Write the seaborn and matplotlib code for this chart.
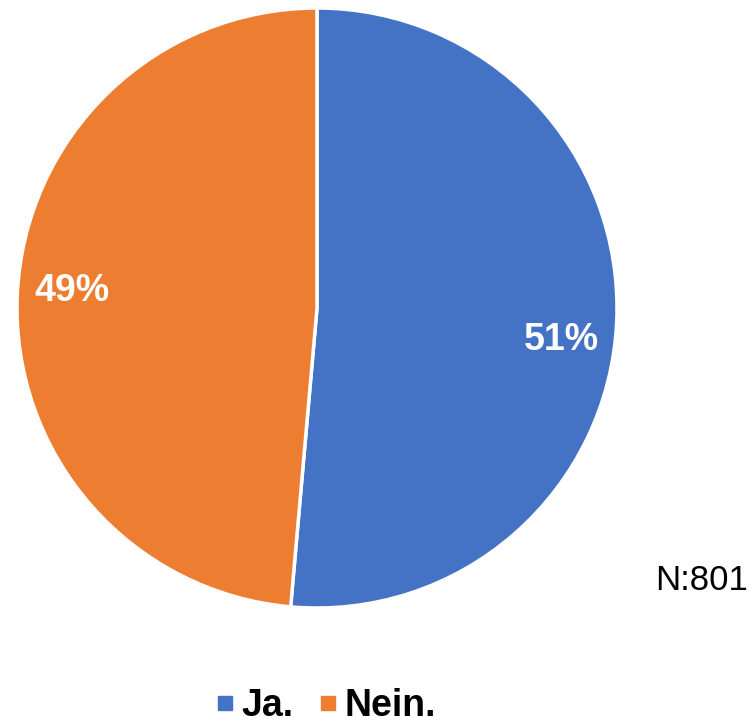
import numpy as np
import seaborn as sns
import matplotlib.pyplot as plt
from matplotlib.lines import Line2D

# Daten
labels = ['Ja.', 'Nein.']
anteile = [51.4, 48.6]
farben = ['#4472C4', '#ED7D31']
n_text = 'N:801'

sns.set_style('white')
plt.rcParams['font.family'] = ['Liberation Sans', 'DejaVu Sans']
plt.rcParams['text.color'] = 'black'

fig = plt.figure(figsize=(7.56, 7.28), dpi=100)
ax = fig.add_axes([17 / 756, 120 / 728, 600 / 756, 600 / 728])

wedges, texts, autotexts = ax.pie(
    anteile, colors=sns.color_palette(farben), startangle=90, counterclock=False,
    autopct='%1.0f%%', pctdistance=0.82,
    wedgeprops=dict(edgecolor='white', linewidth=2.5),
    textprops=dict(color='white', fontsize=27, fontweight='bold'))
ax.set_aspect('equal')
ax.set_xlim(-1, 1)
ax.set_ylim(-1, 1)
ax.axis('off')

# Beschriftung der blauen Scheibe etwas tiefer, wie im Original
for w, t, versatz in zip(wedges, autotexts, [-5, -1.5]):
    winkel = np.deg2rad((w.theta1 + w.theta2) / 2 + versatz)
    t.set_position((0.82 * np.cos(winkel), 0.82 * np.sin(winkel)))

fig.text(702 / 756, 1 - 580 / 728, n_text, fontsize=25, ha='center', va='center')

handles = [Line2D([0], [0], marker='s', linestyle='', markersize=10,
                  markerfacecolor=c, markeredgecolor=c) for c in farben]
fig.legend(handles, labels, loc='center', bbox_to_anchor=(325 / 756, 1 - 706 / 728),
           ncol=2, frameon=False, handlelength=0.6, handletextpad=0.15, columnspacing=0.6,
           borderpad=0.1, prop=dict(size=27, weight='bold'), labelcolor='black')

fig.savefig('out.png', dpi=100)
